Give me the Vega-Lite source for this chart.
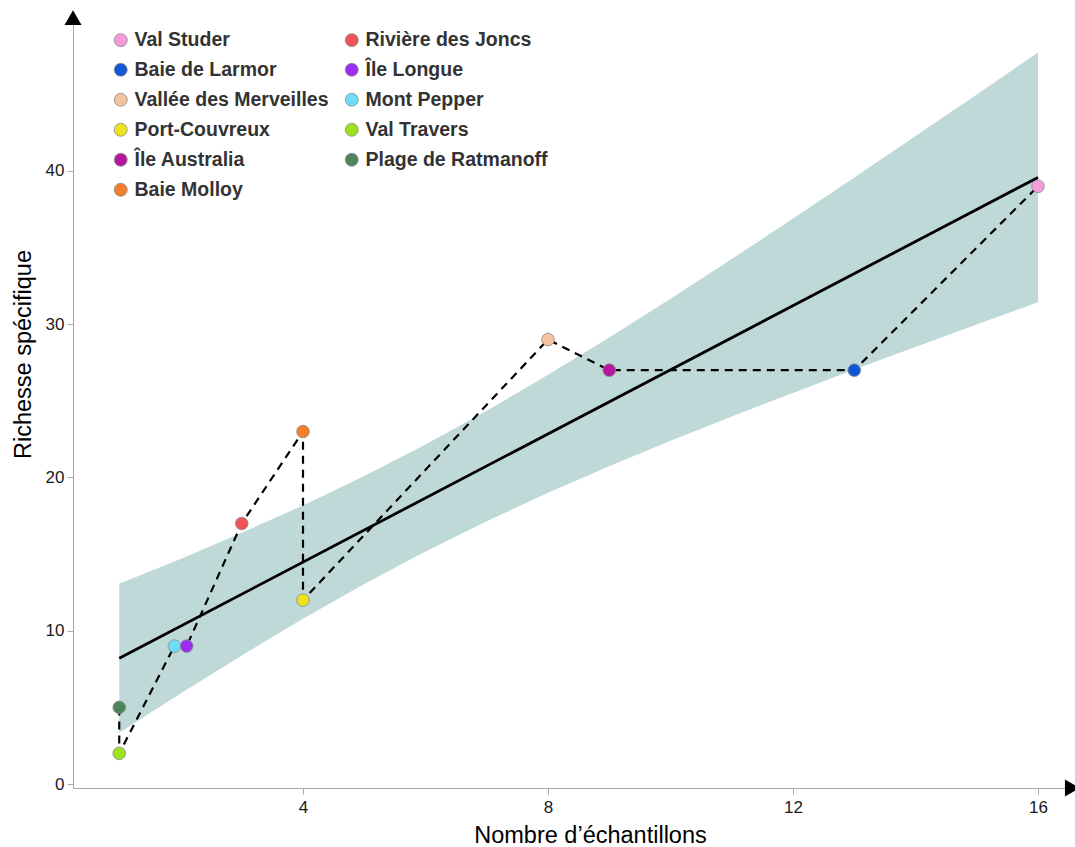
{
  "$schema": "https://vega.github.io/schema/vega-lite/v6.json",
  "width": 997,
  "height": 770,
  "autosize": {"type": "none"},
  "padding": {"left": 73, "top": 18, "right": 5, "bottom": 59},
  "background": "white",
  "config": {
    "font": "Liberation Sans",
    "view": {"stroke": null},
    "axis": {"grid": false, "domainColor": "#a8a8a8", "tickColor": "#a8a8a8", "tickSize": 6, "labelFontSize": 17, "labelColor": "#1a1a1a", "titleFontSize": 23.5, "titleFontWeight": "normal", "titleColor": "#000000", "labelFont": "Liberation Sans", "titleFont": "Liberation Sans"}
  },
  "datasets": {
    "sites": [
      {"site": "Plage de Ratmanoff", "echantillons": 1, "richesse": 5},
      {"site": "Val Travers", "echantillons": 1, "richesse": 2},
      {"site": "Mont Pepper", "echantillons": 1.9, "richesse": 9},
      {"site": "Île Longue", "echantillons": 2.1, "richesse": 9},
      {"site": "Rivière des Joncs", "echantillons": 3, "richesse": 17},
      {"site": "Baie Molloy", "echantillons": 4, "richesse": 23},
      {"site": "Port-Couvreux", "echantillons": 4, "richesse": 12},
      {"site": "Vallée des Merveilles", "echantillons": 8, "richesse": 29},
      {"site": "Île Australia", "echantillons": 9, "richesse": 27},
      {"site": "Baie de Larmor", "echantillons": 13, "richesse": 27},
      {"site": "Val Studer", "echantillons": 16, "richesse": 39}
    ],
    "bande": [
      {"echantillons": 1, "bas": 3.34, "haut": 13.06},
      {"echantillons": 2, "bas": 5.9, "haut": 14.68},
      {"echantillons": 3, "bas": 8.39, "haut": 16.39},
      {"echantillons": 4, "bas": 10.78, "haut": 18.18},
      {"echantillons": 5, "bas": 13.05, "haut": 20.09},
      {"echantillons": 6, "bas": 15.17, "haut": 22.15},
      {"echantillons": 7, "bas": 17.15, "haut": 24.35},
      {"echantillons": 8, "bas": 19.0, "haut": 26.7},
      {"echantillons": 9, "bas": 20.74, "haut": 29.14},
      {"echantillons": 10, "bas": 22.39, "haut": 31.67},
      {"echantillons": 11, "bas": 23.98, "haut": 34.26},
      {"echantillons": 12, "bas": 25.52, "haut": 36.9},
      {"echantillons": 13, "bas": 27.04, "haut": 39.58},
      {"echantillons": 14, "bas": 28.52, "haut": 42.28},
      {"echantillons": 15, "bas": 29.99, "haut": 44.99},
      {"echantillons": 16, "bas": 31.43, "haut": 47.73}
    ],
    "fleches": [
      {"echantillons": 0.245, "richesse": 50.0, "forme": "triangle-up"},
      {"echantillons": 16.56, "richesse": -0.26, "forme": "triangle-right"}
    ]
  },
  "encoding": {
    "x": {"field": "echantillons", "type": "quantitative", "scale": {"domain": [0.245, 16.522], "nice": false, "zero": false}, "axis": {"values": [4, 8, 12, 16], "title": "Nombre d’échantillons", "titlePadding": 8, "labelPadding": 5, "titleX": 517}},
    "y": {"field": "richesse", "type": "quantitative", "scale": {"domain": [-0.26, 49.98], "nice": false, "zero": false}, "axis": {"values": [0, 10, 20, 30, 40], "title": "Richesse spécifique", "titlePadding": 10, "labelPadding": 3, "titleY": 336}}
  },
  "layer": [
    {
      "data": {"name": "bande"},
      "mark": {"type": "area", "color": "#bfd9d8", "opacity": 1},
      "encoding": {"y": {"field": "bas", "type": "quantitative"}, "y2": {"field": "haut"}}
    },
    {
      "data": {"name": "sites"},
      "transform": [{"regression": "richesse", "on": "echantillons"}],
      "mark": {"type": "line", "color": "#000000", "strokeWidth": 2.8},
      "encoding": {}
    },
    {
      "data": {"name": "sites"},
      "mark": {"type": "line", "color": "#000000", "strokeWidth": 2.2, "strokeDash": [8, 6]},
      "encoding": {"order": {"value": null}}
    },
    {
      "data": {"name": "sites"},
      "mark": {"type": "point", "filled": true, "size": 160, "opacity": 1, "stroke": "#8a8a8a", "strokeWidth": 0.8},
      "encoding": {
        "fill": {
          "field": "site", "type": "nominal",
          "scale": {
            "domain": ["Val Studer", "Baie de Larmor", "Vallée des Merveilles", "Port-Couvreux", "Île Australia", "Baie Molloy", "Rivière des Joncs", "Île Longue", "Mont Pepper", "Val Travers", "Plage de Ratmanoff"],
            "range": ["#f59bd8", "#1258d6", "#f5c3a0", "#ede31c", "#b5179e", "#f57e2a", "#ee5456", "#9c2cf0", "#6fdcf7", "#9de21e", "#4c855c"]
          },
          "legend": {
            "title": null, "orient": "none", "legendX": 38, "legendY": 12, "columns": 2, "direction": "vertical",
            "symbolType": "circle", "symbolSize": 169, "symbolStrokeColor": "#8a8a8a", "symbolStrokeWidth": 0.8,
            "labelFontSize": 19.5, "labelFontWeight": "bold", "labelColor": "#333333", "labelFont": "Liberation Sans",
            "labelOffset": 4, "rowPadding": 9, "columnPadding": 13, "padding": 0, "labelLimit": 400
          }
        }
      }
    },
    {
      "data": {"name": "fleches"},
      "mark": {"type": "point", "filled": true, "size": 289, "color": "#000000", "opacity": 1},
      "encoding": {"shape": {"field": "forme", "type": "nominal", "scale": null}}
    }
  ]
}
